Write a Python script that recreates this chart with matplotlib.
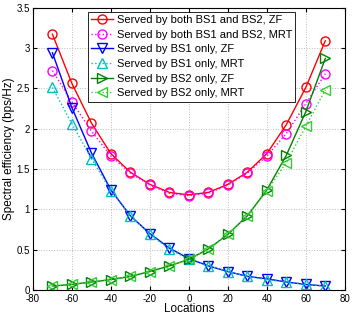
import matplotlib
matplotlib.use("Agg")
import matplotlib.pyplot as plt

locations = [-70, -60, -50, -40, -30, -20, -10, 0, 10, 20, 30, 40, 50, 60, 70]

both_zf = [3.17, 2.56, 2.07, 1.69, 1.46, 1.31, 1.21, 1.18, 1.21, 1.31, 1.46, 1.69, 2.05, 2.51, 3.09]
both_mrt = [2.72, 2.33, 1.97, 1.66, 1.45, 1.30, 1.20, 1.17, 1.20, 1.30, 1.45, 1.66, 1.94, 2.31, 2.68]
bs1_zf = [2.94, 2.26, 1.70, 1.24, 0.92, 0.70, 0.52, 0.39, 0.30, 0.23, 0.17, 0.14, 0.10, 0.07, 0.05]
bs1_mrt = [2.51, 2.06, 1.63, 1.23, 0.92, 0.69, 0.51, 0.38, 0.30, 0.23, 0.17, 0.13, 0.10, 0.07, 0.05]
bs2_zf = [0.05, 0.07, 0.10, 0.13, 0.17, 0.23, 0.30, 0.38, 0.51, 0.69, 0.92, 1.24, 1.67, 2.21, 2.87]
bs2_mrt = [0.05, 0.07, 0.10, 0.13, 0.17, 0.23, 0.30, 0.38, 0.51, 0.69, 0.92, 1.23, 1.58, 2.03, 2.48]

x_ticks = [-80, -60, -40, -20, 0, 20, 40, 60, 80]
y_ticks = [0, 0.5, 1, 1.5, 2, 2.5, 3, 3.5]
y_tick_labels = ['0', '0.5', '1', '1.5', '2', '2.5', '3', '3.5']

labels = ["Served by both BS1 and BS2, ZF", "Served by both BS1 and BS2, MRT",
          "Served by BS1 only, ZF", "Served by BS1 only, MRT",
          "Served by BS2 only, ZF", "Served by BS2 only, MRT"]

plt.rcParams['font.family'] = ['Liberation Sans', 'DejaVu Sans']
plt.rcParams['font.size'] = 8

fig = plt.figure(figsize=(3.54, 3.16), dpi=100)
ax = fig.add_axes([0.093, 0.082, 0.881, 0.894])

styles = [
    (both_zf, 'red', '-', 'o', 6.5),
    (both_mrt, 'magenta', ':', 'o', 6.5),
    (bs1_zf, 'blue', '-', 'v', 7.5),
    (bs1_mrt, 'c', ':', '^', 7.5),
    (bs2_zf, 'green', '-', '>', 7.5),
    (bs2_mrt, '#33cc33', ':', '<', 7.5),
]
for (y, c, ls, m, ms), lab in zip(styles, labels):
    ax.plot(locations, y, color=c, linestyle=ls, marker=m, markersize=ms,
            markerfacecolor='none', markeredgewidth=1.0, linewidth=1.0, label=lab)

ax.set_xlim(-80, 80)
ax.set_ylim(0, 3.5)
ax.set_xticks(x_ticks)
ax.set_xticklabels([str(v) for v in x_ticks])
ax.set_yticks(y_ticks)
ax.set_yticklabels(y_tick_labels)
ax.tick_params(direction='in', length=3, top=True, right=True, pad=2,
               labelsize=7)
ax.tick_params(axis='x', pad=3)
ax.grid(True, linestyle=':', color='#bbbbbb', linewidth=0.7)
ax.set_xlabel("Locations", fontsize=8.5, labelpad=-1)
ax.set_ylabel("Spectral efficiency (bps/Hz)", fontsize=8.5, labelpad=1)

leg = ax.legend(loc='upper left', bbox_to_anchor=(0.176, 0.986), fancybox=False,
                edgecolor='black', framealpha=1, borderpad=0.3, labelspacing=0.42,
                handlelength=2.0, handletextpad=0.3, borderaxespad=0, fontsize=8)
leg.get_frame().set_linewidth(0.6)

fig.savefig("out.png", dpi=100)
